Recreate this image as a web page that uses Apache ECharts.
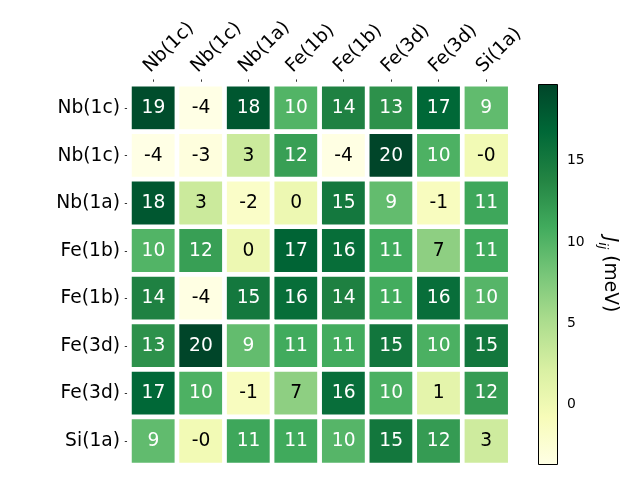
<!DOCTYPE html>
<html>
<head>
<meta charset="utf-8">
<script src="https://cdn.jsdelivr.net/npm/echarts@6/dist/echarts.min.js"></script>
<style>html,body{margin:0;padding:0;background:#fff}#c{width:640px;height:480px}</style>
</head>
<body>
<div id="c"></div>
<script>
const xLabels = ['Nb(1c)','Nb(1c)','Nb(1a)','Fe(1b)','Fe(1b)','Fe(3d)','Fe(3d)','Si(1a)'];
const yLabels = ['Nb(1c)','Nb(1c)','Nb(1a)','Fe(1b)','Fe(1b)','Fe(3d)','Fe(3d)','Si(1a)'];
const row0 = [19.0, -3.7, 18.2, 10.0, 14.2, 12.9, 16.8, 9.2];
const row1 = [-3.7, -3.2, 3.1, 11.8, -3.6, 19.7, 10.3, -0.3];
const row2 = [18.2, 3.1, -1.8, 0.2, 15.1, 9.1, -1.2, 11.2];
const row3 = [10.0, 11.8, 0.2, 17.1, 16.2, 10.9, 6.8, 11.0];
const row4 = [14.2, -3.6, 15.1, 16.2, 14.3, 10.8, 16.1, 9.8];
const row5 = [12.9, 19.7, 9.1, 10.9, 10.8, 15.3, 10.4, 15.2];
const row6 = [16.8, 10.3, -1.2, 6.8, 16.1, 10.4, 1.1, 12.1];
const row7 = [9.2, -0.3, 11.2, 11.0, 9.8, 15.2, 12.1, 2.9];
const rows = [row0,row1,row2,row3,row4,row5,row6,row7];
const cbarTicks = [0, 5, 10, 15];
const vmin = -3.7, vmax = 19.7;
const ylgn = ['#ffffe5','#f7fcb9','#d9f0a3','#addd8e','#78c679','#41ab5d','#238443','#006837','#004529'];

const FONT = 'DejaVu Sans';
const mid = (vmin + vmax) / 2;
const heatData = [];
rows.forEach((r, i) => r.forEach((v, j) => {
  heatData.push({value: [j, i, v], label: {color: v > mid ? '#ffffff' : '#000000'}});
}));

const chart = echarts.init(document.getElementById('c'), null, {renderer: 'canvas'});
chart.setOption({
  animation: false,
  backgroundColor: '#fff',
  grid: [
    {left: 129.65, top: 84.35, width: 380.4, height: 380.4},
    {left: 538.5, top: 84.5, width: 19, height: 380}
  ],
  xAxis: [
    {type: 'category', gridIndex: 0, data: xLabels, position: 'top',
     axisLine: {show: false}, splitLine: {show: false},
     axisTick: {show: true, alignWithLabel: true, length: 4.9, lineStyle: {color: '#000', width: 0.8}},
     axisLabel: {rotate: -45, interval: 0, margin: 8, align: 'left', verticalAlign: 'bottom', fontSize: 18.67, fontFamily: FONT, color: '#000', hideOverlap: false, overflow: 'none'}},
    {type: 'value', gridIndex: 1, min: 0, max: 1, show: false}
  ],
  yAxis: [
    {type: 'category', gridIndex: 0, data: yLabels, inverse: true,
     axisLine: {show: false}, splitLine: {show: false},
     axisTick: {show: true, alignWithLabel: true, length: 4.9, lineStyle: {color: '#000', width: 0.8}},
     axisLabel: {interval: 0, margin: 9.65, fontSize: 18.67, fontFamily: FONT, color: '#000'}},
    {type: 'value', gridIndex: 1, position: 'right', min: vmin, max: vmax,
     axisLine: {show: false}, splitLine: {show: false},
     axisTick: {show: true, customValues: cbarTicks, length: 4.9, lineStyle: {color: '#000', width: 0.8}},
     axisLabel: {customValues: cbarTicks, margin: 9.4, fontSize: 13.9, fontFamily: FONT, color: '#000'},
     name: '{j|J}{s|ij} (meV)', nameLocation: 'middle', nameRotate: -90, nameGap: 38,
     nameTextStyle: {fontSize: 18.67, fontFamily: FONT, color: '#000',
       rich: {
         j: {fontSize: 18.67, fontFamily: FONT, fontStyle: 'italic', color: '#000', lineHeight: 28},
         s: {fontSize: 13, fontFamily: FONT, fontStyle: 'italic', color: '#000', lineHeight: 14, verticalAlign: 'bottom'}
       }}}
  ],
  visualMap: {show: false, min: vmin, max: vmax, seriesIndex: 0, dimension: 2, inRange: {color: ylgn}},
  series: [
    {type: 'heatmap', xAxisIndex: 0, yAxisIndex: 0, data: heatData,
     itemStyle: {borderColor: '#ffffff', borderWidth: 4.7},
     label: {show: true, fontSize: 18.67, fontFamily: FONT, formatter: p => p.value[2].toFixed(0)},
     emphasis: {disabled: true}},
    {type: 'custom', xAxisIndex: 1, yAxisIndex: 1, data: [[0, vmin, vmax]], silent: true,
     renderItem: (params, api) => {
       const p0 = api.coord([0, api.value(1)]);
       const p1 = api.coord([1, api.value(2)]);
       return {type: 'rect',
         shape: {x: p0[0], y: p1[1], width: p1[0] - p0[0], height: p0[1] - p1[1]},
         style: {fill: {type: 'linear', x: 0, y: 0, x2: 0, y2: 1,
           colorStops: ylgn.map((c, k) => ({offset: 1 - k / (ylgn.length - 1), color: c})).reverse()},
           stroke: '#000', lineWidth: 1}};
     }}
  ]
});
</script>
</body>
</html>
